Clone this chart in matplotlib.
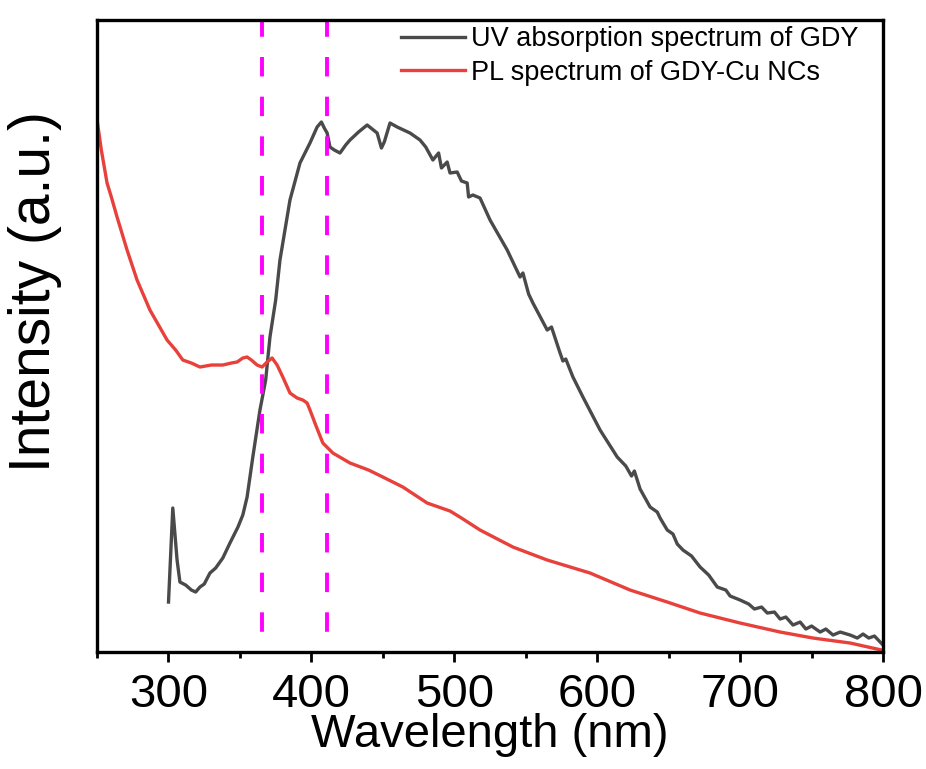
import matplotlib
matplotlib.use("Agg")
import matplotlib.pyplot as plt
from matplotlib.ticker import MultipleLocator

plt.rcParams['font.family'] = ['Liberation Sans', 'DejaVu Sans']

# UV absorption spectrum of GDY (wavelength nm, intensity a.u.)
uv_wl = [300, 303, 306, 308, 312, 316, 319, 322, 325, 329, 333, 338, 343, 348.6,
         352, 355, 359, 364, 368, 371, 375, 378, 385, 392, 399, 404, 407, 409,
         411, 413, 416, 420, 424, 427, 433, 439, 446, 449, 451, 455, 460, 469,
         476, 480, 485, 489, 491, 495, 497, 502, 505, 509, 510, 513, 518, 525,
         531, 537, 546, 548, 552, 555, 565, 568, 574, 576, 578, 583, 590, 602,
         614, 620, 624, 626, 630, 637, 642, 644, 649, 653, 656, 660, 666, 672,
         678, 684, 690, 693, 700, 706, 710, 715, 719, 724, 728, 732, 737, 742,
         746, 750, 756, 760, 765, 770, 777, 782, 786, 790, 794, 798, 800]
uv_int = [50, 144, 92, 70, 67, 62, 60, 65, 68, 79, 84, 94, 109, 125,
          137, 155, 195, 242, 272, 315, 352, 392, 452, 489, 509, 525, 530, 524,
          519, 505, 502, 499, 507, 512, 520, 527, 519, 504, 510, 529, 525, 519,
          512, 505, 492, 499, 484, 490, 479, 480, 471, 469, 455, 457, 454, 432,
          417, 402, 375, 379, 358, 349, 322, 325, 299, 291, 293, 275, 255, 222,
          195, 186, 176, 181, 163, 145, 140, 134, 122, 118, 108, 102, 96, 85,
          77, 65, 62, 56, 52, 48, 43, 45, 39, 40, 33, 35, 27, 30,
          23, 26, 20, 23, 17, 20, 17, 14, 18, 14, 16, 10, 7]

# PL spectrum of GDY-Cu NCs
pl_wl = [250, 253, 257, 260, 264, 271, 278, 287, 293, 299, 305, 310, 316, 322, 330,
         338, 344, 348, 352, 355, 358, 362, 365.5, 369, 372.5, 376, 380, 385,
         390, 394, 397, 399, 403, 408, 415, 427, 440, 450, 464, 481, 497, 505,
         518, 541, 565, 595, 623, 649, 672, 700, 728, 751, 777, 799]
pl_int = [532, 502, 469, 455, 435, 402, 372, 342, 327, 312, 302, 292, 289, 285, 287,
          287, 289, 290, 294, 295, 292, 287, 285, 290, 294, 287, 275, 259,
          254, 252, 249, 242, 227, 209, 199, 189, 182, 175, 165, 149, 141, 134,
          122, 105, 92, 79, 62, 50, 39, 29, 20, 14, 9, 2]

marker_lines = [365.5, 411]
x_ticks = [300, 400, 500, 600, 700, 800]
labels = ['UV absorption spectrum of GDY', 'PL spectrum of GDY-Cu NCs']

fig = plt.figure(figsize=(9.26, 7.69), dpi=100)
ax = fig.add_axes([0.1048, 0.1521, 0.8488, 0.8219])

ax.plot(uv_wl, uv_int, color='#4a4a4a', lw=2.4, label=labels[0])
ax.plot(pl_wl, pl_int, color='#e8403a', lw=2.4, label=labels[1])
for xv in marker_lines:
    ax.axvline(xv, color='#ff00ff', lw=2.8, linestyle=(5.0, (5.0, 5.2)))

ax.set_xlim(250, 800)
ax.set_ylim(0, 632)
ax.set_xticks(x_ticks)
ax.xaxis.set_minor_locator(MultipleLocator(50))
ax.set_yticks([])
ax.tick_params(axis='x', which='major', direction='out', length=7, width=2,
               labelsize=34, pad=8)
ax.tick_params(axis='x', which='minor', direction='out', length=4, width=2)
for s in ax.spines.values():
    s.set_linewidth(2.4)

ax.set_xlabel('Wavelength (nm)', fontsize=34, labelpad=-3)
ax.set_ylabel('Intensity (a.u.)', fontsize=41)
ax.yaxis.set_label_coords(-0.045, 0.57)

ax.legend(loc='upper right', bbox_to_anchor=(0.969, 0.99), frameon=False,
          fontsize=19.5, handlelength=2.35, handletextpad=0.25, labelspacing=0.27,
          borderpad=0, borderaxespad=0)

fig.savefig('out.png', dpi=100)
